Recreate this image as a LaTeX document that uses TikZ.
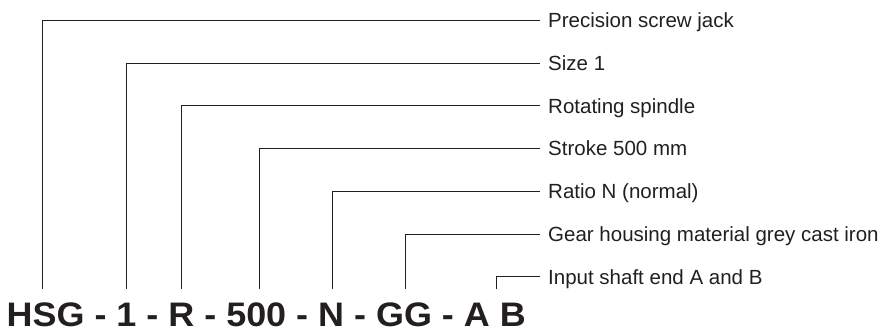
\documentclass[tikz,border=0pt]{standalone}
\usepackage{fontspec}
\setmainfont{Liberation Sans}
\definecolor{ink}{HTML}{231F20}
\begin{document}
\begin{tikzpicture}[x=1pt,y=-1pt,
  leader/.style={draw=ink,line width=0.8pt},
  lbl/.style={anchor=west,inner xsep=8pt,inner ysep=0pt,text height=14.5pt,text depth=0pt,font=\fontsize{20.5}{24}\selectfont,text=ink},
  code/.style={anchor=base west,inner sep=0pt,font=\fontsize{34}{40}\selectfont\bfseries,text=ink}]
\useasboundingbox (0,0) rectangle (879,332);
\node[code] (code) at (6.5,326.3) {\scalebox{1.057}[1]{HSG - 1 - R - 500 - N - GG - A B}};
\node[lbl] (l1) at (540,20.3) {Precision screw jack};
\node[lbl] (l2) at (540,63.05) {Size 1};
\node[lbl] (l3) at (540,105.8) {Rotating spindle};
\node[lbl] (l4) at (540,148.55) {Stroke 500 mm};
\node[lbl] (l5) at (540,191.3) {Ratio N (normal)};
\node[lbl] (l6) at (540,234.05) {Gear housing material grey cast iron};
\node[lbl] (l7) at (540,276.8) {Input shaft end A and B};
\coordinate (c1) at (42.3,289);
\coordinate (c2) at (126.7,289);
\coordinate (c3) at (181,289);
\coordinate (c4) at (259.7,289);
\coordinate (c5) at (332,289);
\coordinate (c6) at (405.7,289);
\coordinate (c7) at (496,289);
\foreach \i in {1,...,7} \draw[leader] (c\i) |- (l\i.west);
\end{tikzpicture}
\end{document}
